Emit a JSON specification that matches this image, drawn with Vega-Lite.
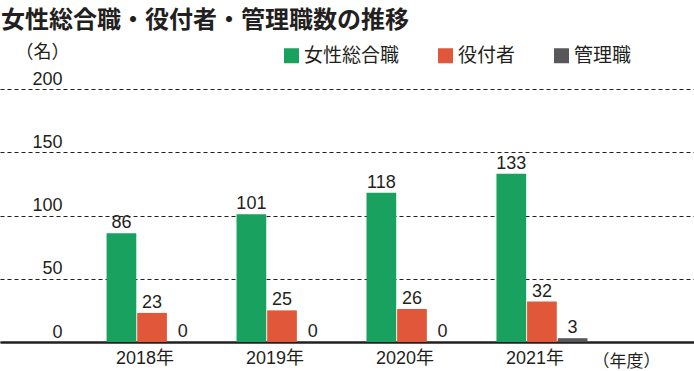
{
  "$schema": "https://vega.github.io/schema/vega-lite/v6.json",
  "width": 694,
  "height": 253,
  "autosize": "none",
  "padding": {"top": 89, "left": 0, "right": 0, "bottom": 29},
  "background": "white",
  "title": {
    "text": "女性総合職・役付者・管理職数の推移",
    "anchor": "start",
    "frame": "group",
    "font": "Noto Sans CJK JP",
    "fontSize": 24,
    "fontWeight": "bold",
    "color": "#231f20",
    "offset": 10,
    "dx": 1
  },
  "config": {
    "view": {"stroke": null},
    "font": "Liberation Sans, Noto Sans CJK JP",
    "text": {"color": "#231f20"}
  },
  "data": {
    "values": [
      {"year": "2018年", "cat": "女性総合職", "value": 86},
      {"year": "2018年", "cat": "役付者", "value": 23},
      {"year": "2018年", "cat": "管理職", "value": 0},
      {"year": "2019年", "cat": "女性総合職", "value": 101},
      {"year": "2019年", "cat": "役付者", "value": 25},
      {"year": "2019年", "cat": "管理職", "value": 0},
      {"year": "2020年", "cat": "女性総合職", "value": 118},
      {"year": "2020年", "cat": "役付者", "value": 26},
      {"year": "2020年", "cat": "管理職", "value": 0},
      {"year": "2021年", "cat": "女性総合職", "value": 133},
      {"year": "2021年", "cat": "役付者", "value": 32},
      {"year": "2021年", "cat": "管理職", "value": 3}
    ]
  },
  "encoding": {
    "x": {
      "field": "year",
      "type": "nominal",
      "scale": {"paddingInner": 0.3, "paddingOuter": 0.82},
      "axis": {
        "orient": "bottom",
        "labelAngle": 0,
        "domain": true,
        "domainColor": "#231f20",
        "domainWidth": 2.5,
        "ticks": false,
        "labelFontSize": 18,
        "labelColor": "#231f20",
        "labelPadding": 7,
        "labelOffset": -7,
        "title": "（年度）",
        "titleFont": "Noto Sans CJK JP",
        "titleFontSize": 17,
        "titleFontWeight": "normal",
        "titleColor": "#231f20",
        "titleX": 626,
        "titleY": 24,
        "titleAlign": "center",
        "titleBaseline": "alphabetic"
      }
    },
    "xOffset": {
      "field": "cat",
      "type": "nominal",
      "sort": ["女性総合職", "役付者", "管理職"],
      "scale": {"paddingInner": 0.03, "paddingOuter": 0}
    },
    "y": {
      "field": "value",
      "type": "quantitative",
      "scale": {"domain": [0, 200], "nice": false},
      "axis": {
        "orient": "left",
        "values": [0, 50, 100, 150, 200],
        "domain": false,
        "ticks": false,
        "grid": true,
        "gridDash": [4, 3],
        "gridColor": "#231f20",
        "gridWidth": 1,
        "labelAlign": "right",
        "labelBaseline": "alphabetic",
        "labelPadding": -62,
        "labelOffset": -5,
        "labelFontSize": 18,
        "labelColor": "#231f20",
        "labelFlush": false,
        "title": "（名）",
        "titleFont": "Noto Sans CJK JP",
        "titleAngle": 0,
        "titleFontSize": 18,
        "titleFontWeight": "normal",
        "titleColor": "#231f20",
        "titleX": 42,
        "titleY": -37,
        "titleAlign": "center",
        "titleBaseline": "middle"
      }
    }
  },
  "layer": [
    {
      "mark": {"type": "bar"},
      "encoding": {
        "color": {
          "field": "cat",
          "type": "nominal",
          "sort": ["女性総合職", "役付者", "管理職"],
          "scale": {
            "domain": ["女性総合職", "役付者", "管理職"],
            "range": ["#18a15f", "#e0573a", "#58585a"]
          },
          "legend": {
            "orient": "none",
            "legendX": 282,
            "legendY": -43,
            "direction": "horizontal",
            "title": null,
            "symbolType": "square",
            "symbolSize": 225,
            "symbolStrokeWidth": 0,
            "labelFont": "Noto Sans CJK JP",
            "labelFontSize": 19,
            "labelColor": "#231f20",
            "labelOffset": 3,
            "columnPadding": 36
          }
        }
      }
    },
    {
      "mark": {"type": "text", "baseline": "alphabetic", "dy": -5, "fontSize": 18},
      "encoding": {
        "text": {"field": "value", "type": "quantitative"}
      }
    }
  ]
}
